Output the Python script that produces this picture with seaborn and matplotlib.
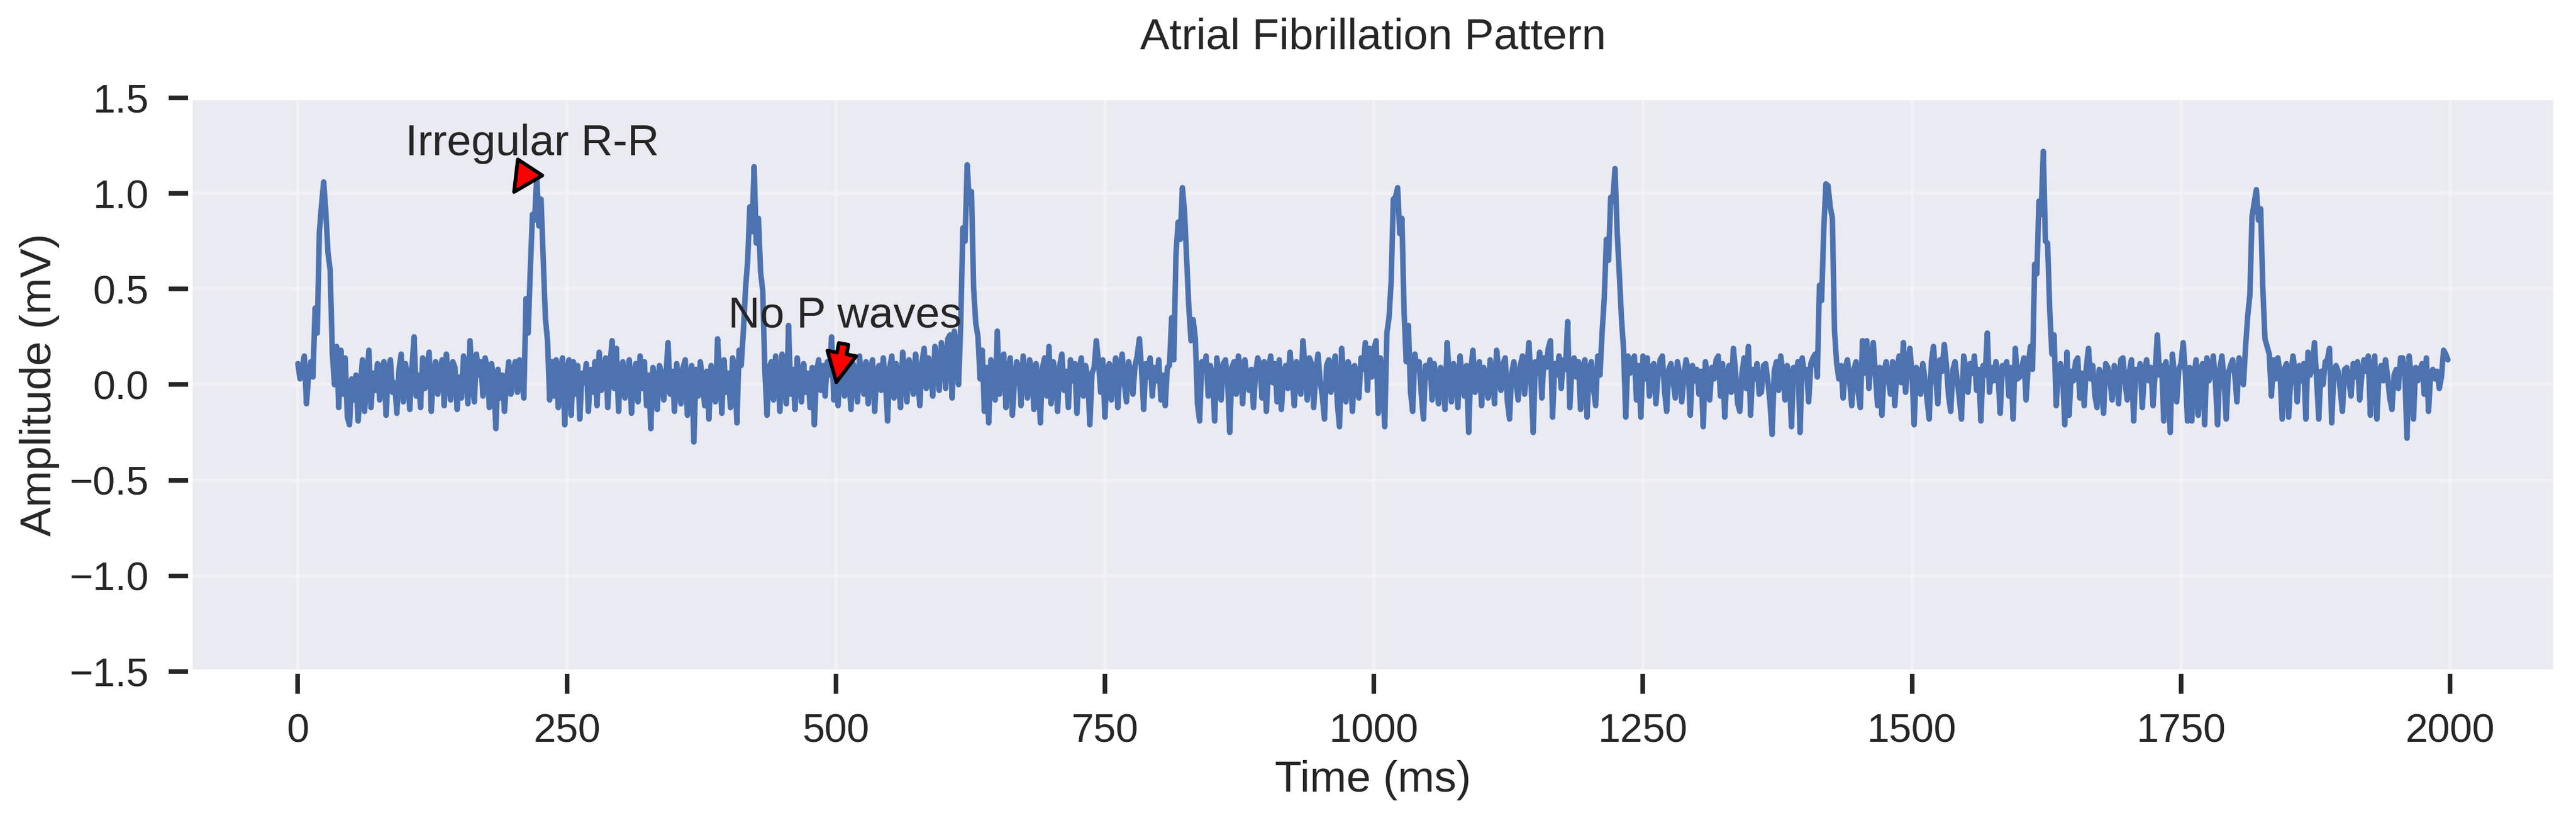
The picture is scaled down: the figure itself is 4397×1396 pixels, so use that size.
import numpy as np
import pandas as pd
import matplotlib
matplotlib.use("Agg")
import matplotlib.pyplot as plt
import seaborn as sns

# ---- data (amplitude in mV, sampled every 2 ms) ----
seg_0000 = [
    0.11, 0.03, 0.09, 0.15, -0.10, 0.05, 0.12, 0.04, 0.40, 0.27,
    0.80, 0.94, 1.06, 0.90, 0.69, 0.60, 0.17, 0.00, 0.20, -0.12,
    0.18, -0.05, 0.14, -0.17, -0.21, 0.03, -0.08, 0.05, -0.19, -0.02,
    0.13, -0.14, 0.02, 0.18, -0.12, 0.06, -0.03, 0.11, -0.08, 0.09,
    0.12, -0.16, 0.07, 0.13, -0.04, 0.01, -0.15, 0.08, 0.16, -0.09,
    0.11, 0.04, -0.13, 0.09, 0.25, -0.06, 0.05, -0.12, 0.14, -0.02,
    0.10, 0.17, -0.14, 0.06, 0.12, -0.05, 0.08, 0.13, -0.11, 0.16,
    0.03, -0.08, 0.12, 0.09, -0.13, 0.04, -0.07, 0.15, 0.08, -0.10,
    0.23, 0.02, -0.09, 0.16, 0.05, 0.12, -0.06, 0.14, 0.09, -0.12,
    0.11, 0.03, -0.23, 0.08, -0.07, 0.05, -0.14, 0.02, 0.12, -0.05,
]
seg_0200 = [
    0.06, 0.12, -0.04, 0.13, 0.03, -0.07, 0.45, 0.27, 0.60, 0.89,
    0.86, 1.09, 0.83, 0.97, 0.66, 0.35, 0.23, -0.08, 0.12, -0.06,
    0.13, -0.12, 0.09, 0.14, -0.21, 0.07, 0.13, -0.16, 0.12, -0.05,
    0.10, -0.18, 0.06, 0.01, 0.11, -0.14, 0.08, -0.04, 0.12, -0.11,
    0.17, -0.03, 0.05, 0.14, -0.12, 0.10, 0.23, -0.02, 0.19, -0.14,
    0.08, 0.12, -0.07, 0.04, 0.13, -0.15, 0.06, 0.11, -0.09, 0.15,
    -0.02, 0.12, -0.11, 0.05, -0.23, 0.09, 0.02, -0.13, 0.10, 0.06,
    -0.08, 0.04, 0.22, -0.05, 0.07, -0.14, 0.11, 0.03, -0.10, 0.09,
    0.13, -0.16, 0.05, 0.10, -0.30, 0.08, -0.06, 0.12, 0.03, -0.11,
    0.07, -0.18, 0.10, 0.02, -0.09, 0.24, 0.05, -0.15, 0.13, -0.04,
]
seg_0400 = [
    0.06, -0.12, 0.14, 0.09, -0.20, 0.18, 0.10, 0.28, 0.50, 0.65,
    0.93, 0.80, 1.14, 0.74, 0.87, 0.59, 0.49, 0.07, -0.16, 0.09,
    0.12, -0.08, 0.15, 0.04, -0.14, 0.16, 0.02, -0.10, 0.31, -0.05,
    0.08, -0.13, 0.14, 0.03, -0.09, 0.11, -0.04, 0.06, -0.12, 0.09,
    -0.21, 0.07, 0.13, -0.03, 0.10, -0.06, 0.12, 0.05, 0.25, -0.08,
    0.02, -0.11, 0.09, 0.14, -0.06, 0.16, 0.03, -0.13, 0.11, 0.07,
    -0.09, 0.15, 0.01, -0.05, 0.12, -0.10, 0.08, 0.13, -0.14, 0.06,
    0.10, -0.03, 0.14, 0.02, -0.19, 0.09, 0.15, -0.07, 0.11, 0.04,
    -0.12, 0.17, 0.06, -0.09, 0.13, 0.08, -0.05, 0.16, 0.03, -0.11,
    0.12, 0.19, -0.02, 0.14, 0.07, -0.06, 0.20, 0.11, -0.03, 0.22,
]
seg_0600 = [
    0.15, -0.02, 0.24, 0.26, -0.07, 0.28, 0.20, 0.00, 0.32, 0.82,
    0.75, 1.15, 0.95, 1.01, 0.50, 0.32, 0.25, 0.03, 0.18, -0.14,
    0.09, -0.20, 0.13, 0.04, -0.08, 0.28, -0.05, 0.11, 0.16, -0.12,
    0.07, 0.14, -0.16, 0.02, 0.12, 0.09, -0.11, 0.15, 0.04, -0.07,
    0.13, 0.08, -0.13, 0.11, 0.03, -0.20, 0.09, 0.14, -0.06, 0.20,
    -0.10, 0.12, 0.05, -0.14, 0.10, 0.16, -0.03, 0.07, -0.12, 0.13,
    0.02, 0.11, -0.15, 0.08, 0.14, -0.06, 0.10, 0.04, -0.21, 0.06,
    0.09, 0.23, 0.12, -0.04, 0.13, -0.17, 0.08, 0.11, -0.08, 0.05,
    0.14, -0.12, 0.09, 0.16, 0.01, -0.09, 0.12, 0.06, -0.05, 0.10,
    0.15, 0.24, 0.08, -0.13, 0.11, 0.04, 0.14, -0.06, 0.09, 0.02,
]
seg_0800 = [
    0.13, -0.08, 0.05, -0.11, 0.09, 0.10, 0.35, 0.13, 0.68, 0.85,
    0.76, 1.03, 0.90, 0.65, 0.40, 0.23, 0.34, 0.24, -0.10, -0.19,
    0.12, 0.08, 0.15, -0.06, 0.10, 0.03, -0.19, 0.14, 0.05, -0.08,
    0.11, 0.13, 0.02, -0.25, 0.09, 0.12, -0.05, 0.15, 0.07, -0.10,
    0.13, 0.04, -0.03, 0.08, -0.12, 0.06, 0.14, 0.10, -0.07, 0.12,
    -0.14, 0.08, 0.15, 0.01, 0.11, -0.09, 0.13, -0.13, 0.06, 0.10,
    -0.02, 0.17, 0.04, -0.11, 0.12, 0.08, -0.05, 0.23, 0.09, -0.08,
    0.14, 0.11, -0.12, 0.06, 0.16, 0.02, -0.06, -0.18, 0.10, 0.13,
    -0.04, 0.09, 0.15, -0.10, -0.22, 0.19, 0.03, -0.09, 0.12, 0.07,
    -0.14, 0.10, 0.05, -0.07, 0.14, 0.08, 0.22, -0.03, 0.19, 0.04,
]
seg_1000 = [
    0.19, 0.23, -0.15, 0.14, 0.05, -0.22, 0.27, 0.35, 0.54, 0.97,
    0.98, 1.03, 0.79, 0.87, 0.38, 0.12, 0.31, -0.04, -0.14, 0.16,
    0.08, 0.12, -0.05, -0.18, 0.10, 0.04, 0.13, -0.08, 0.11, 0.02,
    -0.10, 0.09, 0.06, -0.13, 0.22, 0.05, -0.09, 0.11, 0.07, -0.12,
    0.15, 0.03, -0.06, 0.10, -0.25, 0.08, 0.18, -0.04, 0.06, 0.12,
    -0.11, 0.09, 0.02, -0.07, 0.13, 0.05, -0.10, 0.18, 0.07, -0.03,
    0.11, 0.14, -0.09, -0.18, 0.06, 0.12, 0.02, -0.08, 0.10, 0.15,
    -0.05, 0.08, 0.22, 0.01, -0.25, 0.12, 0.06, 0.17, -0.07, 0.14,
    0.09, 0.19, 0.23, -0.17, 0.11, 0.05, 0.15, -0.02, 0.13, 0.08,
    0.33, -0.12, 0.10, 0.14, 0.04, 0.12, -0.13, 0.09, 0.13, -0.17,
]
seg_1200 = [
    0.08, 0.12, -0.02, -0.11, 0.15, 0.05, 0.27, 0.45, 0.76, 0.65,
    0.98, 0.96, 1.13, 0.80, 0.58, 0.35, 0.18, -0.17, 0.15, 0.06,
    0.12, 0.15, -0.08, 0.10, -0.17, 0.15, 0.03, 0.14, -0.06, 0.09,
    0.11, -0.10, 0.05, 0.13, 0.15, -0.03, -0.14, 0.08, 0.11, 0.02,
    -0.07, 0.12, 0.06, -0.09, 0.04, 0.13, 0.08, -0.16, 0.10, 0.02,
    0.08, -0.05, 0.07, -0.22, 0.12, 0.04, -0.08, 0.09, 0.03, 0.13,
    0.15, -0.06, 0.11, -0.17, 0.05, 0.10, -0.04, 0.19, 0.07, -0.10,
    -0.14, 0.06, 0.14, -0.02, 0.20, -0.16, 0.08, 0.03, 0.11, -0.05,
    -0.04, 0.10, 0.11, 0.02, -0.09, -0.26, 0.07, 0.12, -0.03, 0.15,
    0.06, -0.08, 0.10, 0.04, -0.22, 0.09, 0.03, 0.12, -0.25, 0.14,
]
seg_1400 = [
    0.05, 0.08, -0.09, 0.11, 0.14, 0.16, 0.04, 0.52, 0.44, 0.81,
    1.05, 1.04, 0.93, 0.87, 0.28, 0.11, 0.03, 0.10, -0.07, 0.09,
    0.13, 0.02, -0.11, 0.08, 0.12, -0.04, -0.12, 0.23, 0.06, 0.23,
    -0.02, 0.14, 0.22, 0.05, -0.11, 0.09, -0.16, 0.07, 0.12, 0.03,
    -0.05, 0.12, -0.11, 0.08, 0.15, 0.01, 0.22, -0.04, 0.10, 0.19,
    0.06, -0.21, 0.09, 0.07, -0.05, 0.11, 0.03, -0.08, -0.18, 0.12,
    0.20, 0.04, -0.10, 0.13, 0.07, 0.21, 0.10, -0.06, -0.14, 0.08,
    0.12, 0.02, -0.07, -0.18, 0.15, 0.09, -0.04, 0.11, 0.06, 0.15,
    -0.03, 0.08, -0.19, 0.10, 0.05, 0.27, -0.04, 0.09, 0.02, 0.12,
    0.04, -0.15, 0.10, 0.07, 0.12, -0.06, 0.09, -0.18, 0.19, 0.03,
]
seg_1600 = [
    0.04, 0.09, 0.14, -0.08, 0.10, 0.20, 0.08, 0.63, 0.58, 0.96,
    0.89, 1.22, 0.75, 0.74, 0.39, 0.16, 0.26, -0.11, 0.08, 0.11,
    0.05, -0.21, 0.17, -0.16, 0.07, 0.02, 0.12, 0.14, -0.07, 0.06,
    -0.11, 0.09, 0.19, 0.03, 0.10, -0.06, -0.12, 0.08, 0.04, -0.15,
    0.11, 0.09, 0.02, -0.08, 0.10, 0.06, -0.10, 0.13, 0.14, 0.01,
    -0.08, 0.07, 0.13, -0.19, 0.08, 0.04, 0.11, -0.12, 0.06, 0.13,
    0.02, 0.09, -0.11, 0.07, 0.26, 0.05, 0.10, -0.19, 0.12, 0.03,
    -0.25, 0.16, 0.04, -0.09, 0.08, 0.11, 0.22, 0.06, -0.19, 0.09,
    -0.19, 0.05, 0.13, -0.16, 0.07, 0.11, -0.21, 0.14, 0.02, 0.07,
    0.15, 0.01, -0.21, 0.08, 0.15, 0.03, -0.18, 0.06, 0.10, 0.13,
]
seg_1800 = [
    0.05, -0.09, 0.14, 0.08, 0.00, 0.20, 0.36, 0.47, 0.88, 0.95,
    1.02, 0.86, 0.92, 0.51, 0.24, 0.20, 0.16, -0.06, 0.13, 0.03,
    0.14, 0.06, -0.18, 0.08, 0.11, -0.17, 0.04, 0.15, 0.07, -0.09,
    0.10, 0.02, 0.11, -0.18, 0.17, 0.05, 0.09, 0.22, 0.03, -0.18,
    0.07, 0.00, 0.12, 0.13, 0.19, -0.20, 0.06, 0.10, 0.07, -0.03,
    -0.14, 0.08, 0.09, 0.02, -0.06, 0.11, 0.04, 0.12, -0.08, 0.05,
    0.13, 0.07, 0.15, -0.16, 0.09, 0.15, -0.18, 0.06, 0.10, 0.02,
    0.13, 0.04, -0.07, -0.13, 0.05, 0.08, -0.02, 0.14, 0.14, 0.06,
    -0.28, 0.15, 0.04, -0.18, 0.09, 0.02, 0.08, 0.11, -0.05, 0.14,
    -0.14, 0.06, 0.08, 0.03, 0.07, -0.02, 0.04, 0.18, 0.16, 0.13,
]
segments = [seg_0000, seg_0200, seg_0400, seg_0600, seg_0800,
            seg_1000, seg_1200, seg_1400, seg_1600, seg_1800]
amplitude_mv = np.concatenate([np.asarray(s, dtype=float) for s in segments])
time_ms = np.arange(0, 2000, 2)

title_text = "Atrial Fibrillation Pattern"
x_label = "Time (ms)"
y_label = "Amplitude (mV)"
y_ticks = [-1.5, -1.0, -0.5, 0.0, 0.5, 1.0, 1.5]
note_rr = "Irregular R-R"
note_rr_xy = (200, 1.0)
note_rr_text = (100, 1.2)
note_p = "No P waves"
note_p_xy = (500, 0.0)
note_p_text = (400, 0.3)

df = pd.DataFrame({"time": time_ms, "amp": amplitude_mv})

# ---- style ----
sns.set_theme(style="darkgrid", context="talk",
              rc={"xtick.bottom": True, "ytick.left": True,
                  "xtick.major.pad": 8, "ytick.major.pad": 8})
plt.rcParams["font.family"] = ["Liberation Sans", "DejaVu Sans"]

fig = plt.figure(figsize=(4397 / 300, 1396 / 300), dpi=300)
ax = fig.add_axes([0.0739, 0.1791, 0.9181, 0.7013])

sns.lineplot(data=df, x="time", y="amp", ax=ax, estimator=None,
             color=sns.color_palette("deep")[0])

ax.set_ylim(-1.5, 1.5)
ax.set_yticks(y_ticks)
ax.set_title(title_text, pad=20)
ax.set_xlabel(x_label)
ax.set_ylabel(y_label)
ax.grid(True, alpha=0.3)

arrow_style = dict(facecolor="red", edgecolor="black", shrink=0.05)
ax.annotate(note_rr, xy=note_rr_xy, xytext=note_rr_text, arrowprops=arrow_style)
ax.annotate(note_p, xy=note_p_xy, xytext=note_p_text, arrowprops=arrow_style)

fig.savefig("out.png", dpi=300)
